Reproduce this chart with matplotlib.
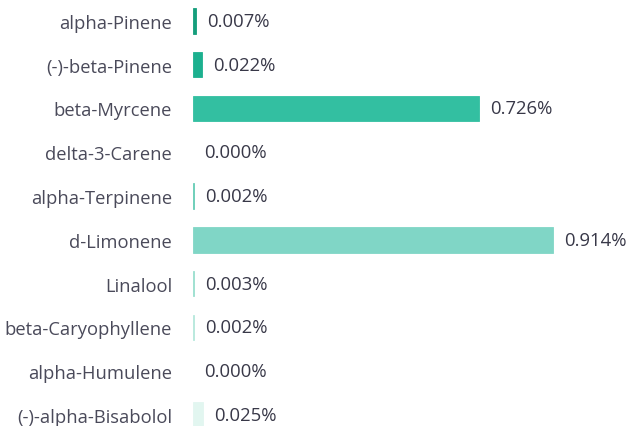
import matplotlib.pyplot as plt
import numpy as np

plt.rcParams['font.family'] = ['Open Sans', 'DejaVu Sans']

compounds = ['alpha-Pinene', '(-)-beta-Pinene', 'beta-Myrcene', 'delta-3-Carene',
             'alpha-Terpinene', 'd-Limonene', 'Linalool', 'beta-Caryophyllene',
             'alpha-Humulene', '(-)-alpha-Bisabolol']
percent = [0.007, 0.022, 0.726, 0.000, 0.002, 0.914, 0.003, 0.002, 0.000, 0.025]
colors = ['#159e7c', '#1cb08f', '#33bfa1', '#4cc7ab', '#66ccb6', '#80d6c6',
          '#9adfcf', '#b6e8dc', '#cdefe6', '#e2f6f0']

fig = plt.figure(figsize=(6.27, 4.27), dpi=100)
ax = fig.add_axes([193 / 627, -11 / 427, 434 / 627, 438 / 427])

y = np.arange(len(compounds))
widths = [v if v > 0 else np.nan for v in percent]
ax.barh(y, widths, height=0.58, color=colors, edgecolor=colors, linewidth=0.6)
ax.set_ylim(len(compounds) - 0.5, -0.5)
ax.set_xlim(0, 0.914 * 434 / 360)

for yi, v in zip(y, percent):
    ax.annotate(f'{v:.3f}%', (v, yi), xytext=(11, 0), textcoords='offset pixels',
                va='center', ha='left', fontsize=13.3, color='#383848')

ax.set_yticks(y)
ax.set_yticklabels(compounds, fontsize=13.2, color='#4a4a5a')
ax.tick_params(axis='y', length=0, pad=15)
ax.set_xticks([])
for s in ax.spines.values():
    s.set_visible(False)

fig.savefig('out.png', dpi=100)
